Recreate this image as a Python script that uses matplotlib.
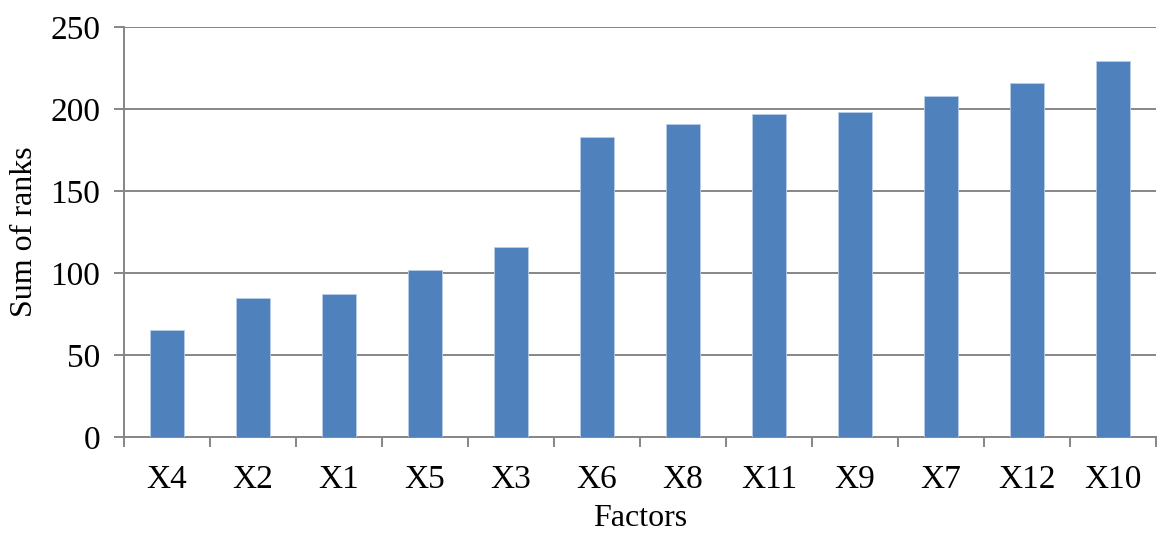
"""Bar chart of the sum of ranks for each factor."""
import matplotlib.pyplot as plt
import numpy as np

factors = ["X4", "X2", "X1", "X5", "X3", "X6", "X8", "X11", "X9", "X7", "X12", "X10"]
sum_of_ranks = [65, 85, 87, 102, 116, 183, 191, 197, 198, 208, 216, 229]
y_ticks = [0, 50, 100, 150, 200, 250]

plt.rcParams["font.family"] = ["Liberation Serif", "DejaVu Serif"]
axis_grey = "#868686"

fig = plt.figure(figsize=(11.57, 5.34), dpi=100)
ax = fig.add_axes([124 / 1157, 97 / 534, 1032 / 1157, 410 / 534])

x = np.arange(len(factors))
ax.bar(x, sum_of_ranks, width=0.4, color="#4F81BD", edgecolor="#B9CDE5",
       linewidth=0.6, zorder=3)

ax.set_xlim(-0.5, len(factors) - 0.5)
ax.set_ylim(0, 250)
ax.set_yticks(y_ticks)
ax.set_xticks(x)
ax.set_xticklabels(factors)
ax.set_xticks(np.arange(len(factors) + 1) - 0.5, minor=True)

ax.grid(axis="y", color=axis_grey, linewidth=1.4, zorder=0)
ax.tick_params(axis="y", which="major", length=7, width=1.4, color=axis_grey,
               pad=10, labelsize=24)
ax.tick_params(axis="x", which="major", length=0, pad=20, labelsize=24)
ax.tick_params(axis="x", which="minor", length=7, width=1.4, color=axis_grey)

for side in ["top", "right"]:
    ax.spines[side].set_visible(False)
for side in ["left", "bottom"]:
    ax.spines[side].set_color(axis_grey)
    ax.spines[side].set_linewidth(1.4)

ax.set_xlabel("Factors", fontsize=23, labelpad=6)
ax.set_ylabel("Sum of ranks", fontsize=23, labelpad=8)

plt.savefig("out.png")
plt.close()
